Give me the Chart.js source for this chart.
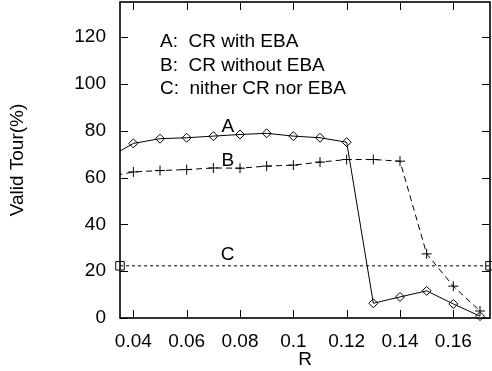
<!DOCTYPE html>
<html>
<head>
<meta charset="utf-8">
<script src="https://cdn.jsdelivr.net/npm/chart.js@4/dist/chart.umd.min.js"></script>
<style>
html,body{margin:0;padding:0;background:#fff;}
#wrap{width:492px;height:371px;position:relative;}
</style>
</head>
<body>
<div id="wrap"><canvas id="c" width="492" height="371"></canvas></div>
<script>
// ---- data ----
const xValuesA = [0.03, 0.04, 0.05, 0.06, 0.07, 0.08, 0.09, 0.10, 0.11, 0.12, 0.13, 0.14, 0.15, 0.16, 0.17];
const seriesA  = [68.0, 74.6, 76.6, 77.0, 77.7, 78.4, 78.9, 77.7, 77.0, 75.1, 6.3, 9.0, 11.6, 6.0, 0.8];
const xValuesB = [0.03, 0.04, 0.05, 0.06, 0.07, 0.08, 0.09, 0.10, 0.11, 0.12, 0.13, 0.14, 0.15, 0.16, 0.17];
const seriesB  = [60.2, 62.4, 63.0, 63.4, 64.1, 64.0, 64.9, 65.3, 66.6, 67.7, 67.7, 67.0, 27.4, 13.6, 3.0];
const xValuesC = [0.035, 0.17375];
const seriesC  = [22.3, 22.3];
const xTicks = [0.04, 0.06, 0.08, 0.10, 0.12, 0.14, 0.16];
const xTickLabels = ['0.04', '0.06', '0.08', '0.1', '0.12', '0.14', '0.16'];
const yTicks = [0, 20, 40, 60, 80, 100, 120];
const legendLines = ['A:  CR with EBA', 'B:  CR without EBA', 'C:  nither CR nor EBA'];
const curveLabels = [
  {text: 'A', x: 0.0754, y: 81.8},
  {text: 'B', x: 0.0754, y: 67.3},
  {text: 'C', x: 0.0754, y: 27.2}
];
const xTitle = 'R';
const yTitle = 'Valid Tour(%)';

const FONT = 'Liberation Sans, Arial, Helvetica, sans-serif';
const FS = 19;

function pts(xs, ys){ return xs.map((x,i)=>({x:x, y:ys[i]})); }

const framePlugin = {
  id: 'frame',
  afterDraw(chart){
    const ctx = chart.ctx;
    const a = chart.chartArea;
    const xs = chart.scales.x, ys = chart.scales.y;
    ctx.save();
    ctx.strokeStyle = '#000';
    // ticks (inward, mirrored)
    ctx.lineWidth = 1;
    const tl = 8;
    ctx.beginPath();
    xTicks.forEach(v=>{
      const px = Math.round(xs.getPixelForValue(v)) + 0.5;
      ctx.moveTo(px, a.bottom); ctx.lineTo(px, a.bottom - tl);
      ctx.moveTo(px, a.top); ctx.lineTo(px, a.top + tl);
    });
    yTicks.forEach(v=>{
      const py = Math.round(ys.getPixelForValue(v)) + 0.5;
      ctx.moveTo(a.left, py); ctx.lineTo(a.left + tl, py);
      ctx.moveTo(a.right, py); ctx.lineTo(a.right - tl, py);
    });
    ctx.stroke();
    // border
    ctx.lineWidth = 1.6;
    ctx.strokeRect(a.left, a.top, a.right - a.left, a.bottom - a.top);
    // legend text
    ctx.fillStyle = '#000';
    ctx.font = FS + 'px ' + FONT;
    ctx.textAlign = 'left';
    ctx.textBaseline = 'middle';
    legendLines.forEach((t,i)=>{
      ctx.fillText(t, 160, 42 + i*23.3);
    });
    // curve labels
    ctx.textAlign = 'center';
    curveLabels.forEach(l=>{
      ctx.fillText(l.text, xs.getPixelForValue(l.x), ys.getPixelForValue(l.y));
    });
    ctx.restore();
  }
};

new Chart(document.getElementById('c'), {
  type: 'line',
  data: {
    datasets: [
      {
        label: 'A', data: pts(xValuesA, seriesA),
        borderColor: '#000', borderWidth: 1, backgroundColor: 'rgba(0,0,0,0)',
        pointStyle: 'rectRot', pointRadius: 4.5, pointBorderWidth: 1,
        pointBorderColor: '#000', pointBackgroundColor: 'rgba(0,0,0,0)',
        tension: 0, clip: {left: 0, top: 0, right: 8, bottom: 8}
      },
      {
        label: 'B', data: pts(xValuesB, seriesB),
        borderColor: '#000', borderWidth: 1, borderDash: [6, 4], backgroundColor: 'rgba(0,0,0,0)',
        pointStyle: 'cross', pointRadius: 5, pointBorderWidth: 1,
        pointBorderColor: '#000', pointBackgroundColor: 'rgba(0,0,0,0)',
        tension: 0, clip: {left: 0, top: 0, right: 8, bottom: 8}
      },
      {
        label: 'C', data: pts(xValuesC, seriesC),
        borderColor: '#000', borderWidth: 1, borderDash: [3, 3], backgroundColor: 'rgba(0,0,0,0)',
        pointStyle: 'rect', pointRadius: 6, pointBorderWidth: 1,
        pointBorderColor: '#000', pointBackgroundColor: 'rgba(0,0,0,0)',
        tension: 0, clip: 8
      }
    ]
  },
  options: {
    responsive: false,
    animation: false,
    events: [],
    layout: {autoPadding: false, padding: {left: 0, right: 2, top: 2, bottom: 0}},
    plugins: {legend: {display: false}, tooltip: {enabled: false}},
    scales: {
      x: {
        type: 'linear', min: 0.035, max: 0.17375,
        grid: {display: false, drawTicks: false},
        border: {display: false},
        afterBuildTicks(s){ s.ticks = xTicks.map(v=>({value:v})); },
        afterFit(s){ s.height = 53; s.paddingLeft = 0; s.paddingRight = 0; },
        ticks: {
          color: '#000', font: {family: FONT, size: FS}, padding: 12, maxRotation: 0, autoSkip: false,
          callback(v){ const i = xTicks.findIndex(t=>Math.abs(t-v)<1e-9); return i>=0 ? xTickLabels[i] : ''; }
        },
        title: {display: true, text: xTitle, color: '#000', font: {family: FONT, size: FS}, padding: {top: 0, bottom: 0}}
      },
      y: {
        type: 'linear', min: 0, max: 135,
        grid: {display: false, drawTicks: false},
        border: {display: false},
        afterBuildTicks(s){ s.ticks = yTicks.map(v=>({value:v})); },
        afterFit(s){ s.width = 120; s.paddingTop = 0; s.paddingBottom = 0; },
        ticks: {color: '#000', font: {family: FONT, size: FS}, padding: 14, autoSkip: false},
        title: {display: true, text: yTitle, color: '#000', font: {family: FONT, size: FS}, padding: {top: 6, bottom: 0}}
      }
    }
  },
  plugins: [framePlugin]
});
</script>
</body>
</html>
